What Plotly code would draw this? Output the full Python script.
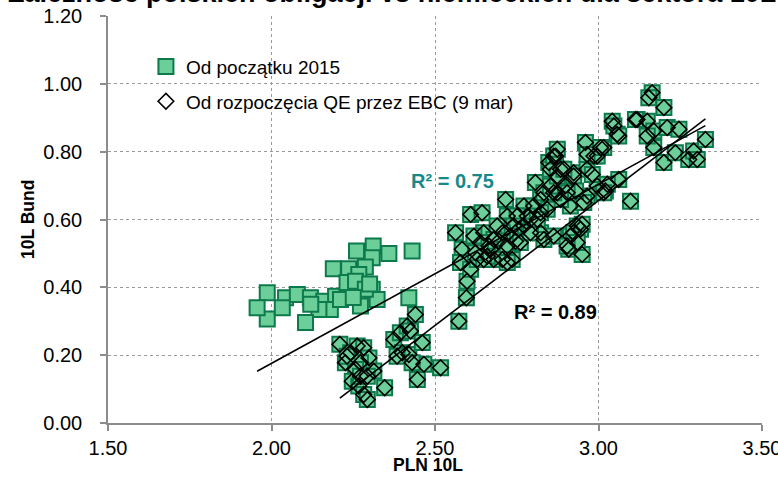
import numpy as np
import plotly.graph_objects as go

# ---- data (PLN 10L yield, 10L Bund yield) ----
# points from start of 2015 until QE start (squares only)
pre_qe_pln = [2.260, 2.311, 2.359, 2.308, 2.430, 2.189, 2.236, 2.287, 2.267, 1.987,
              2.043, 2.079, 2.119, 2.160, 2.196, 2.242, 2.308, 2.323, 2.272, 2.180,
              2.145, 2.104, 1.987, 1.956, 2.033, 2.420, 2.231, 2.257, 2.211, 2.287,
              2.300, 2.250, 2.120]
pre_qe_bund = [0.507, 0.522, 0.500, 0.487, 0.507, 0.455, 0.455, 0.460, 0.438, 0.384,
               0.369, 0.379, 0.369, 0.359, 0.374, 0.389, 0.394, 0.364, 0.345, 0.335,
               0.335, 0.296, 0.307, 0.340, 0.340, 0.369, 0.414, 0.418, 0.364, 0.394,
               0.410, 0.370, 0.350]

# points since ECB QE start (9 Mar) - drawn as squares and diamonds
qe_pln = [2.209, 2.242, 2.226, 2.262, 2.282, 2.298, 2.272, 2.257, 2.313, 2.247,
          2.267, 2.282, 2.293, 2.346, 2.272, 2.293, 2.231, 2.374, 2.394, 2.415,
          2.440, 2.425, 2.400, 2.420, 2.461, 2.466, 2.446, 2.517, 2.430, 2.384,
          2.573, 2.596, 2.598, 2.563, 2.583, 2.578, 2.609, 2.644, 2.609, 2.629,
          2.649, 2.665, 2.680, 2.695, 2.716, 2.721, 2.736, 2.746, 2.756, 2.772,
          2.792, 2.807, 2.823, 2.823, 2.833, 2.863, 2.848, 2.869, 2.884, 2.874,
          2.899, 2.914, 2.924, 2.935, 2.914, 2.909, 2.950, 2.945, 2.960, 2.965,
          2.986, 2.996, 3.016, 3.021, 3.042, 3.057, 3.062, 3.098, 3.118, 3.149,
          3.164, 3.154, 3.200, 3.169, 3.210, 3.246, 3.169, 3.200, 3.235, 3.276,
          3.291, 3.327, 3.302, 3.113, 3.149, 3.047, 3.062, 3.027, 3.016, 2.996,
          3.006, 2.965, 2.981, 2.965, 2.955, 2.924, 2.930, 2.904, 2.884, 2.863,
          2.853, 2.843, 2.823, 2.802, 2.782, 2.772, 2.751, 2.741, 2.731, 2.721,
          2.706, 2.690, 2.680, 2.670, 2.660, 2.649, 2.639, 2.624, 2.619, 2.706,
          2.721, 2.761, 2.792, 2.813, 2.833, 2.853, 2.874, 2.894, 2.863, 2.874,
          2.924, 2.935, 2.904, 2.950]
qe_bund = [0.232, 0.207, 0.178, 0.227, 0.222, 0.192, 0.178, 0.158, 0.153, 0.123,
           0.109, 0.084, 0.069, 0.104, 0.138, 0.138, 0.197, 0.246, 0.266, 0.286,
           0.320, 0.271, 0.207, 0.202, 0.237, 0.173, 0.128, 0.163, 0.178, 0.197,
           0.300, 0.369, 0.418, 0.561, 0.512, 0.473, 0.615, 0.620, 0.453, 0.482,
           0.561, 0.522, 0.482, 0.536, 0.659, 0.610, 0.482, 0.536, 0.571, 0.640,
           0.600, 0.709, 0.659, 0.561, 0.541, 0.551, 0.768, 0.787, 0.748, 0.679,
           0.699, 0.640, 0.738, 0.581, 0.551, 0.512, 0.497, 0.571, 0.827, 0.748,
           0.787, 0.699, 0.812, 0.684, 0.890, 0.851, 0.718, 0.654, 0.895, 0.890,
           0.974, 0.959, 0.930, 0.861, 0.871, 0.866, 0.812, 0.768, 0.797, 0.777,
           0.802, 0.836, 0.777, 0.895, 0.846, 0.876, 0.846, 0.704, 0.679, 0.787,
           0.812, 0.792, 0.733, 0.669, 0.650, 0.728, 0.684, 0.679, 0.659, 0.679,
           0.748, 0.630, 0.620, 0.640, 0.610, 0.581, 0.610, 0.581, 0.551, 0.522,
           0.561, 0.581, 0.541, 0.512, 0.492, 0.482, 0.532, 0.502, 0.551, 0.482,
           0.473, 0.532, 0.561, 0.600, 0.679, 0.699, 0.728, 0.748, 0.787, 0.807,
           0.561, 0.532, 0.522, 0.586]

# linear trendlines as shown on the chart (slope, intercept)
trend_all_coef = (0.528, -0.880)   # R² = 0.75
trend_qe_coef = (0.737, -1.555)    # R² = 0.89

series_names = ["Od początku 2015", "Od rozpoczęcia QE przez EBC (9 mar)"]
r2_labels = ["R² = 0.75", "R² = 0.89"]
x_ticks = [1.5, 2.0, 2.5, 3.0, 3.5]
y_ticks = [0.0, 0.2, 0.4, 0.6, 0.8, 1.0, 1.2]

title_text = "Zależność polskich obligacji vs niemieckich dla sektora 10L"
x_title = "PLN 10L"
y_title = "10L Bund"

all_pln = pre_qe_pln + qe_pln
all_bund = pre_qe_bund + qe_bund


def trend(xs, coef):
    xr = np.array([min(xs), max(xs)])
    return xr, coef[0] * xr + coef[1]


fig = go.Figure()

fig.add_trace(go.Scatter(
    x=all_pln, y=all_bund, mode="markers", name=series_names[0],
    legendgroup="a",
    marker=dict(symbol="square", size=15, color="#6ccf99",
                line=dict(color="#0d7a4c", width=2)),
))
fig.add_trace(go.Scatter(
    x=qe_pln, y=qe_bund, mode="markers", name=series_names[1],
    legendgroup="b",
    marker=dict(symbol="diamond", size=12, color="rgba(0,0,0,0)",
                line=dict(color="#000000", width=1.6)),
))

tx, ty = trend(all_pln, trend_all_coef)
fig.add_trace(go.Scatter(x=tx, y=ty, mode="lines", showlegend=False,
                         line=dict(color="#000000", width=1.6)))
tx2, ty2 = trend(qe_pln, trend_qe_coef)
fig.add_trace(go.Scatter(x=tx2, y=ty2, mode="lines", showlegend=False,
                         line=dict(color="#000000", width=1.6)))

tick_font = dict(family="Liberation Sans, Arial, sans-serif", size=20, color="#000000")
axis_title_font = dict(family="Liberation Sans Narrow, Arial Narrow, Liberation Sans, sans-serif",
                       size=17.5, color="#000000", weight="bold")

fig.update_xaxes(
    range=[1.5, 3.5], tickvals=x_ticks, tickformat=".2f",
    showgrid=True, gridcolor="#9a9a9a", griddash="dot", gridwidth=1,
    showline=True, linecolor="#8c8c8c", linewidth=1.5,
    ticks="outside", ticklen=6, tickcolor="#8c8c8c", tickwidth=1.5,
    tickfont=tick_font, zeroline=False, automargin=False,
    ticklabeloverflow="allow",
)
fig.update_yaxes(
    range=[0, 1.2], tickvals=y_ticks, tickformat=".2f",
    showgrid=True, gridcolor="#9a9a9a", griddash="dot", gridwidth=1,
    showline=True, linecolor="#8c8c8c", linewidth=1.5,
    ticks="outside", ticklen=6, tickcolor="#8c8c8c", tickwidth=1.5,
    tickfont=tick_font, zeroline=False, ticklabelstandoff=14, automargin=False,
    ticklabeloverflow="allow",
)

annotations = [
    dict(text=title_text, xref="paper", yref="paper", x=0.434, y=1.015,
         xanchor="center", yanchor="bottom", showarrow=False,
         font=dict(family="Liberation Sans, Arial, sans-serif", size=27,
                   color="#000000", weight="bold")),
    dict(text=x_title, xref="paper", yref="paper", x=0.49, y=-0.102,
         xanchor="center", yanchor="middle", showarrow=False, font=axis_title_font),
    dict(text=y_title, xref="paper", yref="paper", x=-0.123, y=0.5,
         xanchor="center", yanchor="middle", showarrow=False, textangle=-90,
         font=axis_title_font),
    dict(text=r2_labels[0], x=2.553, y=0.715, xref="x", yref="y", showarrow=False,
         font=dict(family="Liberation Sans, Arial, sans-serif", size=20,
                   color="#17898b", weight="bold")),
    dict(text=r2_labels[1], x=2.869, y=0.326, xref="x", yref="y", showarrow=False,
         font=dict(family="Liberation Sans, Arial, sans-serif", size=20,
                   color="#000000", weight="bold")),
]

fig.update_layout(
    width=778, height=495,
    margin=dict(l=108, r=16, t=16, b=72),
    paper_bgcolor="#ffffff", plot_bgcolor="#ffffff",
    annotations=annotations,
    legend=dict(x=0.058, y=0.922, xanchor="left", yanchor="top",
                bgcolor="rgba(0,0,0,0)", tracegroupgap=7,
                font=dict(family="Liberation Sans, Arial, sans-serif", size=19,
                          color="#000000")),
    showlegend=True,
)

fig.write_html("out.html", config={"displayModeBar": False},
               post_script="document.body.style.margin='0px';")
